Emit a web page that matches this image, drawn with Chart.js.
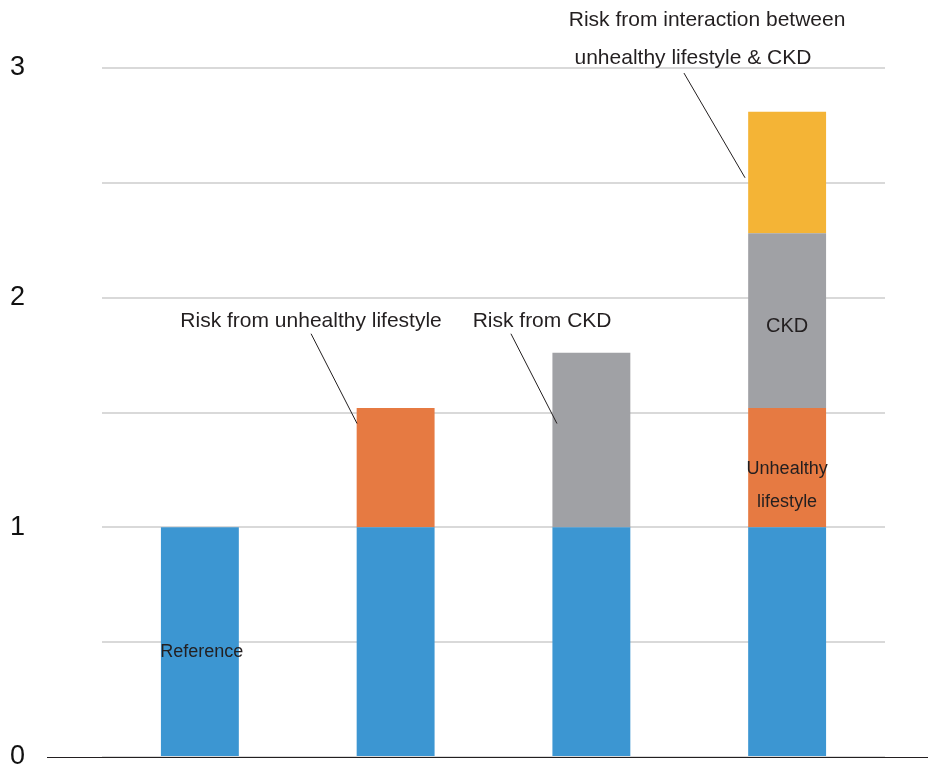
<!DOCTYPE html>
<html>
<head>
<meta charset="utf-8">
<script src="https://cdn.jsdelivr.net/npm/chart.js@4/dist/chart.umd.min.js"></script>
<style>
  html, body { margin: 0; padding: 0; background: #ffffff; }
  #wrap { width: 928px; height: 766px; position: relative; }
</style>
</head>
<body>
<div id="wrap"><canvas id="c" width="928" height="766"></canvas></div>
<script>
// ---- data ----
const categories = ["Reference", "Unhealthy lifestyle", "CKD", "Unhealthy lifestyle & CKD"];
const baseRisk        = [1, 1, 1, 1];
const lifestyleRisk   = [0, 0.52, 0, 0.52];
const ckdRisk         = [0, 0, 0.76, 0.76];
const interactionRisk = [0, 0, 0, 0.53];
const yTickLabels = [0, 1, 2, 3];

// annotation texts (position given in data units: category index, value)
const calloutTexts = [
  { lines: ["Risk from unhealthy lifestyle"], x: 0.568, y: 1.896, from: [0.568, 1.843], to: [0.803, 1.452] },
  { lines: ["Risk from CKD"], x: 1.748, y: 1.896, from: [1.589, 1.843], to: [1.824, 1.452] },
  { lines: ["Risk from interaction between", "unhealthy lifestyle & CKD"], xs: [2.591, 2.519], ys: [3.209, 3.043], from: [2.473, 2.978], to: [2.785, 2.522] }
];
const inBarTexts = [
  { text: "Reference", x: 0.01, y: 0.457, size: 18 },
  { text: "CKD", x: 3, y: 1.874, size: 20 },
  { text: "Unhealthy", x: 3, y: 1.252, size: 18 },
  { text: "lifestyle", x: 3, y: 1.109, size: 18 }
];

const FONT = "'Liberation Sans', Arial, Helvetica, sans-serif";

const annotationPlugin = {
  id: 'annot',
  afterDatasetsDraw(chart) {
    const ctx = chart.ctx;
    const xs = chart.scales.x, ys = chart.scales.y;
    const px = v => xs.getPixelForValue(v);
    const py = v => ys.getPixelForValue(v);
    ctx.save();
    // baseline
    ctx.strokeStyle = '#231f20';
    ctx.lineWidth = 1.2;
    ctx.beginPath();
    const y0 = Math.round(py(0)) + 0.5;
    ctx.moveTo(47, y0);
    ctx.lineTo(chart.width, y0);
    ctx.stroke();

    ctx.fillStyle = '#231f20';
    ctx.textAlign = 'center';
    ctx.textBaseline = 'middle';
    // in-bar labels
    inBarTexts.forEach(t => {
      ctx.font = t.size + 'px ' + FONT;
      ctx.fillText(t.text, px(t.x), py(t.y));
    });
    // callouts
    ctx.font = '21px ' + FONT;
    calloutTexts.forEach(c => {
      if (c.lines.length === 1) {
        ctx.fillText(c.lines[0], px(c.x), py(c.y));
      } else {
        c.lines.forEach((l, i) => ctx.fillText(l, px(c.xs[i]), py(c.ys[i])));
      }
      ctx.beginPath();
      ctx.lineWidth = 1;
      ctx.moveTo(px(c.from[0]), py(c.from[1]));
      ctx.lineTo(px(c.to[0]), py(c.to[1]));
      ctx.stroke();
    });
    ctx.restore();
  }
};

new Chart(document.getElementById('c'), {
  type: 'bar',
  data: {
    labels: categories,
    datasets: [
      { label: 'Reference', data: baseRisk, backgroundColor: 'rgb(60,150,210)' },
      { label: 'Unhealthy lifestyle', data: lifestyleRisk, backgroundColor: 'rgb(230,122,66)' },
      { label: 'CKD', data: ckdRisk, backgroundColor: 'rgb(160,161,165)' },
      { label: 'Interaction', data: interactionRisk, backgroundColor: 'rgb(244,180,54)' }
    ]
  },
  options: {
    responsive: false,
    animation: false,
    devicePixelRatio: 1,
    layout: { padding: { left: 10, right: 43, top: 68, bottom: 9 } },
    datasets: { bar: { categoryPercentage: 1, barPercentage: 0.398, borderWidth: 0 } },
    plugins: { legend: { display: false }, tooltip: { enabled: false } },
    scales: {
      x: { stacked: true, display: false },
      y: {
        stacked: true,
        min: 0, max: 3,
        border: { display: false },
        grid: { color: '#d9d9d9', lineWidth: 2, drawTicks: false },
        ticks: {
          stepSize: 0.5,
          crossAlign: 'far',
          color: '#111',
          font: { family: FONT, size: 27 },
          callback: v => yTickLabels.includes(v) ? String(v) : ''
        },
        afterFit(scale) { scale.width = 92; scale.paddingTop = 0; scale.paddingBottom = 0; }
      }
    }
  },
  plugins: [annotationPlugin]
});
</script>
</body>
</html>
